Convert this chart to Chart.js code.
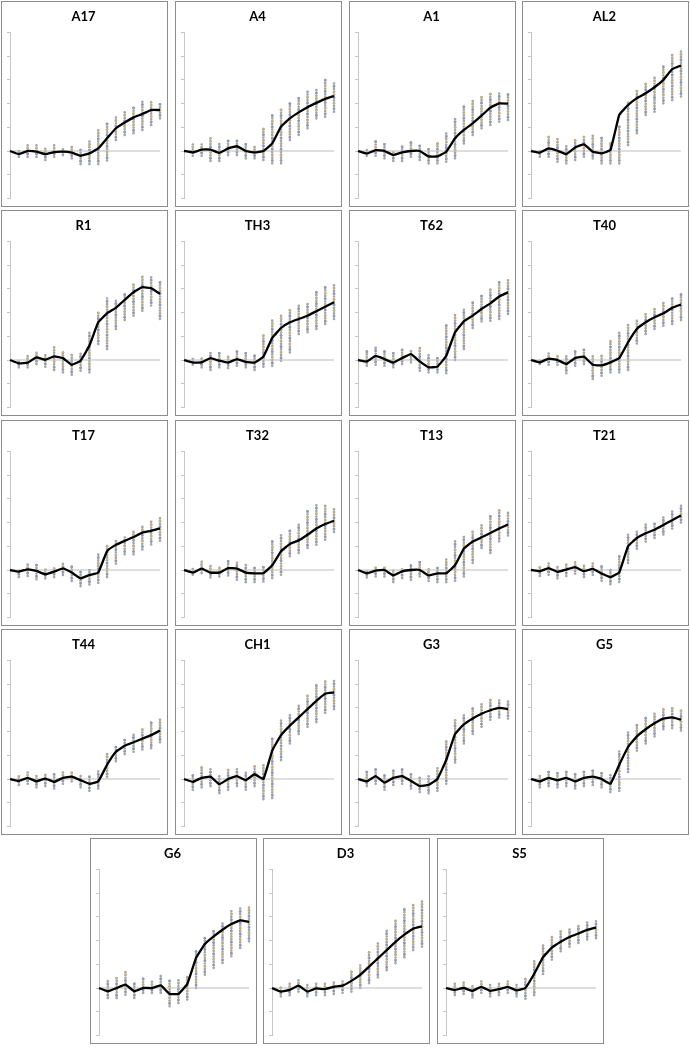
<!DOCTYPE html>
<html>
<head>
<meta charset="utf-8">
<script src="https://cdn.jsdelivr.net/npm/chart.js@4.4.1/dist/chart.umd.min.js"></script>
<style>
  body { margin: 0; background: #fff; width: 690px; height: 1048px; position: relative; overflow: hidden; }
  .panel { position: absolute; width: 165px; height: 204px; border: 1px solid #8c8c8c; background: #fff; }
  .panel canvas { display: block; }
</style>
</head>
<body>
<script>
// PANEL DATA: mean line (18 steps) and low/high of the single measurements (steps 1..17)

const titles = ["A17", "A4", "A1", "AL2", "R1", "TH3", "T62", "T40", "T17", "T32", "T13", "T21", "T44", "CH1", "G3", "G5", "G6", "D3", "S5"];

const a17Mean = [0, -0.13, 0, -0.03, -0.13, -0.05, -0.03, -0.07, -0.2, -0.1, 0.11, 0.54, 0.96, 1.2, 1.42, 1.56, 1.73, 1.73];
const a17Lo = [-0.24, -0.24, -0.24, -0.38, -0.24, -0.17, -0.31, -0.55, -0.55, -0.55, -0.4, 0.46, 0.68, 0.75, 0.89, 1.1, 1.38];
const a17Hi = [0.07, 0.25, 0.25, 0.18, 0.25, 0.18, 0.18, 0.07, 0.49, 0.96, 1.2, 1.45, 1.66, 1.9, 2.08, 2.08, 2.08];

const a4Mean = [0, -0.06, 0.06, 0.06, -0.08, 0.11, 0.2, 0, -0.06, 0, 0.32, 1.03, 1.38, 1.63, 1.85, 2.03, 2.2, 2.32];
const a4Lo = [-0.2, -0.2, -0.42, -0.42, -0.17, -0.17, -0.31, -0.31, -0.38, -0.52, -0.52, 0.46, 0.68, 0.96, 1.38, 1.45, 1.66];
const a4Hi = [0.32, 0.39, 0.59, 0.32, 0.46, 0.54, 0.32, 0.25, 1.03, 1.59, 1.83, 2.08, 2.3, 2.5, 2.58, 3.07, 2.93];

const a1Mean = [0, -0.11, 0.04, 0, -0.17, -0.06, 0, 0, -0.23, -0.23, -0.03, 0.54, 0.89, 1.17, 1.49, 1.83, 2.01, 2.0];
const a1Lo = [-0.2, -0.2, -0.31, -0.42, -0.42, -0.24, -0.38, -0.52, -0.52, -0.45, -0.31, 0.32, 0.68, 0.96, 1.1, 1.24, 1.31];
const a1Hi = [0.04, 0.42, 0.32, 0.04, 0.25, 0.37, 0.28, 0.08, 0.39, 0.75, 1.45, 1.94, 2.11, 2.37, 2.44, 2.51, 2.44];

const al2Mean = [0, -0.07, 0.11, 0.01, -0.13, 0.15, 0.28, -0.03, -0.1, 0.04, 1.52, 1.94, 2.23, 2.44, 2.69, 3.0, 3.45, 3.61];
const al2Lo = [-0.24, -0.24, -0.45, -0.52, -0.38, -0.24, -0.31, -0.52, -0.52, -0.52, 0.25, 0.75, 1.52, 1.66, 2.01, 2.15, 2.3];
const al2Hi = [0.07, 0.61, 0.54, 0.25, 0.46, 0.61, 0.75, 0.61, 0.39, 1.03, 2.08, 2.58, 2.86, 3.14, 3.63, 4.06, 4.3];

const r1Mean = [0, -0.14, -0.11, 0.11, 0.01, 0.15, 0.08, -0.2, -0.03, 0.61, 1.59, 1.97, 2.2, 2.54, 2.86, 3.07, 3.03, 2.79];
const r1Lo = [-0.31, -0.31, -0.17, -0.28, -0.42, -0.52, -0.62, -0.45, -0.52, 0.68, 0.46, 1.31, 1.69, 1.87, 2.08, 2.3, 1.73];
const r1Hi = [-0.06, 0.18, 0.37, 0.25, 0.61, 0.37, 0.28, 0.32, 1.24, 2.06, 2.65, 2.58, 2.86, 3.24, 3.56, 3.49, 3.35];

const th3Mean = [0, -0.11, -0.1, 0.08, -0.03, -0.11, 0.04, -0.08, -0.11, 0.14, 0.93, 1.35, 1.59, 1.73, 1.87, 2.06, 2.25, 2.44];
const th3Lo = [-0.2, -0.31, -0.42, -0.31, -0.34, -0.24, -0.31, -0.42, -0.28, -0.24, -0.03, 0.32, 1.1, 1.17, 1.31, 1.52, 1.73];
const th3Hi = [0.04, 0.14, 0.37, 0.39, 0.23, 0.46, 0.32, 0.28, 1.1, 1.73, 1.94, 2.15, 2.3, 2.44, 2.86, 3.14, 3.21];

const t62Mean = [0, -0.06, 0.17, 0.04, -0.11, 0.08, 0.25, -0.06, -0.31, -0.28, 0.18, 1.17, 1.63, 1.87, 2.15, 2.39, 2.68, 2.86];
const t62Lo = [-0.24, -0.2, -0.24, -0.31, -0.17, -0.1, -0.45, -0.52, -0.52, -0.56, 0, 0.46, 1.35, 1.63, 1.66, 1.73, 1.94];
const t62Hi = [0.37, 0.54, 0.46, 0.32, 0.46, 0.46, 0.54, 0.25, 0.11, 1.55, 1.94, 2.2, 2.44, 2.72, 3.07, 3.28, 3.42];

const t40Mean = [0, -0.1, 0.06, 0, -0.17, 0.08, 0.14, -0.2, -0.23, -0.1, 0.08, 0.75, 1.31, 1.59, 1.8, 1.97, 2.2, 2.34];
const t40Lo = [-0.17, -0.2, -0.2, -0.56, -0.24, -0.17, -0.8, -0.66, -0.52, -0.52, -0.42, 0.7, 1.1, 1.31, 1.45, 1.52, 1.69];
const t40Hi = [0.04, 0.39, 0.25, 0.25, 0.39, 0.46, 0.18, 0.23, 0.79, 1.24, 1.52, 1.73, 2.01, 2.23, 2.44, 2.65, 2.79];

const t17Mean = [0, -0.07, 0.03, -0.04, -0.18, -0.07, 0.07, -0.11, -0.35, -0.21, -0.11, 0.8, 1.06, 1.23, 1.39, 1.58, 1.65, 1.76];
const t17Lo = [-0.3, -0.25, -0.39, -0.35, -0.3, -0.21, -0.46, -0.68, -0.61, -0.54, -0.3, 0.27, 0.66, 0.66, 0.87, 1.08, 1.23];
const t17Hi = [0.03, 0.27, 0.27, 0.03, 0.13, 0.27, 0.24, 0.03, 0.03, 0.66, 1.08, 1.3, 1.39, 1.65, 1.93, 2.14, 2.28];

const t32Mean = [0, -0.11, 0.06, -0.11, -0.11, 0.08, 0.06, -0.11, -0.14, -0.14, 0.2, 0.79, 1.1, 1.25, 1.49, 1.75, 1.94, 2.08];
const t32Lo = [-0.2, -0.13, -0.31, -0.27, -0.23, -0.41, -0.51, -0.51, -0.48, -0.34, -0.2, 0.58, 0.72, 0.93, 1.07, 1.28, 1.61];
const t32Hi = [0.06, 0.37, 0.2, 0.15, 0.39, 0.37, 0.23, 0.15, 0.15, 1.24, 1.46, 1.66, 1.92, 2.48, 2.76, 2.79, 2.62];

const t13Mean = [0, -0.14, -0.03, 0, -0.23, -0.06, 0, 0, -0.23, -0.14, -0.14, 0.2, 0.9, 1.2, 1.38, 1.56, 1.75, 1.92];
const t13Lo = [-0.31, -0.27, -0.27, -0.51, -0.34, -0.41, -0.27, -0.45, -0.51, -0.51, -0.45, -0.27, 0.3, 0.93, 0.72, 1.21, 1.46];
const t13Hi = [-0.03, 0.2, 0.15, 0, 0.06, 0.3, 0.37, 0.06, 0.2, 0.54, 1.21, 1.42, 1.66, 1.99, 2.27, 2.62, 2.51];

const t21Mean = [0, -0.05, 0.08, -0.08, 0.02, 0.12, -0.05, 0.05, -0.15, -0.3, -0.1, 1.0, 1.35, 1.55, 1.7, 1.9, 2.1, 2.3];
const t21Lo = [-0.25, -0.2, -0.35, -0.25, -0.15, -0.3, -0.2, -0.45, -0.6, -0.5, 0.3, 0.9, 1.2, 1.35, 1.5, 1.75, 2.0];
const t21Hi = [0.2, 0.35, 0.2, 0.3, 0.35, 0.2, 0.3, 0.15, 0.05, 0.6, 1.5, 1.7, 1.95, 2.05, 2.25, 2.5, 2.75];

const t44Mean = [0, -0.08, 0.05, -0.1, 0.02, -0.12, 0.05, 0.1, -0.05, -0.2, -0.1, 0.6, 1.15, 1.4, 1.55, 1.7, 1.85, 2.05];
const t44Lo = [-0.25, -0.2, -0.35, -0.3, -0.4, -0.2, -0.1, -0.35, -0.5, -0.4, 0.1, 0.75, 1.05, 1.15, 1.25, 1.3, 1.55];
const t44Hi = [0.2, 0.3, 0.2, 0.25, 0.3, 0.35, 0.3, 0.2, 0.15, 0.4, 1.1, 1.45, 1.65, 1.95, 2.15, 2.4, 2.55];

const ch1Mean = [0, -0.12, 0.05, 0.1, -0.22, 0, 0.12, -0.05, 0.2, 0, 1.2, 1.85, 2.25, 2.6, 2.95, 3.3, 3.6, 3.65];
const ch1Lo = [-0.45, -0.35, -0.3, -0.6, -0.45, -0.3, -0.45, -0.3, -0.85, -0.8, 0.8, 1.5, 1.9, 2.2, 2.4, 2.8, 2.95];
const ch1Hi = [0.25, 0.5, 0.45, 0.2, 0.45, 0.5, 0.3, 0.55, 0.6, 1.75, 2.5, 2.8, 3.2, 3.6, 4.05, 4.2, 4.2];

const g3Mean = [0, -0.1, 0.12, -0.15, 0.05, 0.12, -0.08, -0.3, -0.25, 0, 0.8, 1.9, 2.3, 2.55, 2.75, 2.9, 3.0, 2.95];
const g3Lo = [-0.3, -0.2, -0.45, -0.25, -0.2, -0.4, -0.55, -0.6, -0.5, -0.2, 0.7, 1.5, 1.9, 2.2, 2.5, 2.6, 2.55];
const g3Hi = [0.3, 0.45, 0.2, 0.4, 0.45, 0.3, 0.1, 0.2, 0.45, 1.6, 2.5, 2.8, 3.05, 3.25, 3.4, 3.4, 3.35];

const g5Mean = [0, -0.1, 0.05, -0.05, 0.05, -0.1, 0.05, 0.1, 0, -0.2, 0.6, 1.35, 1.8, 2.1, 2.35, 2.55, 2.6, 2.5];
const g5Lo = [-0.35, -0.3, -0.35, -0.3, -0.4, -0.3, -0.25, -0.35, -0.55, -0.5, 0.3, 1.2, 1.5, 1.8, 2.1, 2.15, 2.05];
const g5Hi = [0.2, 0.35, 0.3, 0.35, 0.2, 0.35, 0.4, 0.35, 0.2, 1.2, 2.0, 2.35, 2.6, 2.85, 3.0, 3.05, 2.9];

const g6Mean = [0, -0.14, 0, 0.14, -0.14, 0, 0, 0.11, -0.25, -0.25, 0.17, 1.27, 1.86, 2.18, 2.46, 2.7, 2.85, 2.79];
const g6Lo = [-0.42, -0.42, -0.28, -0.42, -0.21, -0.21, -0.21, -0.77, -0.63, -0.49, 0, 0.56, 0.85, 1.06, 1.34, 1.69, 1.97];
const g6Hi = [0.31, 0.42, 0.7, 0.21, 0.45, 0.31, 0.56, 0.35, 0.42, 0.49, 1.62, 2.18, 2.46, 2.82, 3.24, 3.41, 3.41];

const d3Mean = [0, -0.15, -0.08, 0.1, -0.15, -0.02, -0.05, 0.05, 0.1, 0.3, 0.55, 0.9, 1.25, 1.6, 1.95, 2.25, 2.5, 2.6];
const d3Lo = [-0.35, -0.3, -0.15, -0.35, -0.3, -0.3, -0.25, -0.2, -0.15, 0, 0.2, 0.45, 0.75, 1.05, 1.3, 1.6, 1.75];
const d3Hi = [0.1, 0.2, 0.35, 0.15, 0.25, 0.25, 0.3, 0.35, 0.7, 1.05, 1.6, 1.95, 2.45, 2.9, 3.4, 3.6, 3.75];

const s5Mean = [0, -0.08, 0, -0.12, 0.05, -0.12, -0.05, 0.05, -0.1, 0, 0.6, 1.3, 1.7, 1.95, 2.15, 2.3, 2.45, 2.55];
const s5Lo = [-0.3, -0.25, -0.4, -0.2, -0.35, -0.3, -0.2, -0.35, -0.45, -0.3, 0.6, 1.2, 1.55, 1.75, 1.9, 2.05, 2.1];
const s5Hi = [0.2, 0.25, 0.15, 0.3, 0.15, 0.25, 0.3, 0.2, 0.45, 1.2, 1.8, 2.2, 2.4, 2.55, 2.7, 2.85, 2.85];

const means = [a17Mean, a4Mean, a1Mean, al2Mean, r1Mean, th3Mean, t62Mean, t40Mean, t17Mean, t32Mean, t13Mean, t21Mean, t44Mean, ch1Mean, g3Mean, g5Mean, g6Mean, d3Mean, s5Mean];
const lows = [a17Lo, a4Lo, a1Lo, al2Lo, r1Lo, th3Lo, t62Lo, t40Lo, t17Lo, t32Lo, t13Lo, t21Lo, t44Lo, ch1Lo, g3Lo, g5Lo, g6Lo, d3Lo, s5Lo];
const highs = [a17Hi, a4Hi, a1Hi, al2Hi, r1Hi, th3Hi, t62Hi, t40Hi, t17Hi, t32Hi, t13Hi, t21Hi, t44Hi, ch1Hi, g3Hi, g5Hi, g6Hi, d3Hi, s5Hi];

// LAYOUT

const lefts = [1, 175, 349, 522, 1, 175, 349, 522, 1, 175, 349, 522, 1, 175, 349, 522, 90, 263, 437];
const tops = [1, 1, 1, 1, 210, 210, 210, 210, 420, 420, 420, 420, 629, 629, 629, 629, 838, 838, 838];

// one vertical stack per step, broken apart with null points
function stacks(lo, hi) {
  const pts = [];
  lo.forEach((v, k) => {
    pts.push({ x: k + 1, y: v }, { x: k + 1, y: hi[k] }, { x: k + 1, y: null });
  });
  return pts;
}

function dots(data, color, gap, offset) {
  return {
    data: data,
    showLine: true,
    borderColor: color,
    borderWidth: 2.7,
    borderDash: [0.01, gap],
    borderDashOffset: offset,
    borderCapStyle: 'round',
    pointRadius: 0,
    spanGaps: false,
    clip: false
  };
}

titles.forEach((name, p) => {
  const box = document.createElement('div');
  box.className = 'panel';
  box.style.left = lefts[p] + 'px';
  box.style.top = tops[p] + 'px';
  const cv = document.createElement('canvas');
  cv.width = 165;
  cv.height = 204;
  box.appendChild(cv);
  document.body.appendChild(box);

  const st = stacks(lows[p], highs[p]);
  const steps = means[p].length - 1;

  new Chart(cv, {
    type: 'scatter',
    data: {
      datasets: [
        {
          data: means[p].map((v, i) => ({ x: i, y: v })),
          showLine: true,
          borderColor: '#000000',
          borderWidth: 2.3,
          pointRadius: 0,
          tension: 0.1,
          clip: false
        },
        {
          data: [{ x: 0, y: 0 }, { x: steps, y: 0 }],
          showLine: true,
          borderColor: '#bdbdbd',
          borderWidth: 1,
          pointRadius: 0,
          clip: false
        },
        dots(st, '#8f9bb6', 11.2, 8.4),
        dots(st, '#c4b083', 11.2, 2.8),
        dots(st, '#a6a6a4', 2.8, 0)
      ]
    },
    options: {
      responsive: false,
      animation: false,
      events: [],
      layout: { padding: { left: 5, right: 7, top: 0, bottom: 7.6 } },
      plugins: {
        legend: { display: false },
        tooltip: { enabled: false },
        title: {
          display: true,
          text: name,
          color: '#000',
          font: { family: 'Lato', weight: 'bold', size: 13 },
          padding: { top: 7.2, bottom: 7.7 }
        }
      },
      scales: {
        x: { type: 'linear', min: 0, max: steps, display: false },
        y: {
          min: -2,
          max: 5,
          ticks: { stepSize: 1, display: false },
          grid: { drawOnChartArea: false, drawTicks: true, tickLength: 3, color: '#c6c6c6' },
          border: { display: true, color: '#c6c6c6' }
        }
      }
    }
  });
});
</script>
</body>
</html>
